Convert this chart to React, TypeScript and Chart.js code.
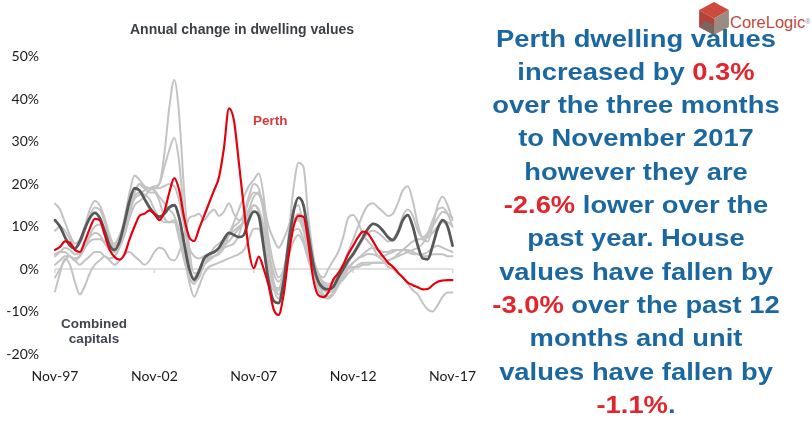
import React, { useEffect, useRef } from "react";
import { Chart, registerables } from "chart.js";

Chart.register(...registerables);

// Quarterly observations, Nov-97 .. Nov-17
const CATEGORIES = [
  "Nov-97",
  "Feb-98", "May-98", "Aug-98", "Nov-98",
  "Feb-99", "May-99", "Aug-99", "Nov-99",
  "Feb-00", "May-00", "Aug-00", "Nov-00",
  "Feb-01", "May-01", "Aug-01", "Nov-01",
  "Feb-02", "May-02", "Aug-02", "Nov-02",
  "Feb-03", "May-03", "Aug-03", "Nov-03",
  "Feb-04", "May-04", "Aug-04", "Nov-04",
  "Feb-05", "May-05", "Aug-05", "Nov-05",
  "Feb-06", "May-06", "Aug-06", "Nov-06",
  "Feb-07", "May-07", "Aug-07", "Nov-07",
  "Feb-08", "May-08", "Aug-08", "Nov-08",
  "Feb-09", "May-09", "Aug-09", "Nov-09",
  "Feb-10", "May-10", "Aug-10", "Nov-10",
  "Feb-11", "May-11", "Aug-11", "Nov-11",
  "Feb-12", "May-12", "Aug-12", "Nov-12",
  "Feb-13", "May-13", "Aug-13", "Nov-13",
  "Feb-14", "May-14", "Aug-14", "Nov-14",
  "Feb-15", "May-15", "Aug-15", "Nov-15",
  "Feb-16", "May-16", "Aug-16", "Nov-16",
  "Feb-17", "May-17", "Aug-17", "Nov-17",
];

const X_TICK_LABELS = ["Nov-97", "Nov-02", "Nov-07", "Nov-12", "Nov-17"];
const Y_MIN = -20;
const Y_MAX = 50;
const Y_STEP = 10;

const PERTH = [
  4.5, 5.2, 6.5, 6.2, 4.5, 4.0, 6.5, 9.5, 11.8, 11.5,
  8, 4.5, 2.8, 2.2, 3.5, 7, 10, 12.5, 13, 13.8,
  13, 11.5, 13.5, 18, 21.4, 18.5, 12, 7.5, 6.6, 9.5,
  12.5, 15.5, 18.5, 21.6, 28.5, 37.8, 35, 25, 14.5, 4.5,
  0.2, 2.9, 0, -4, -9.5, -10.8, -6, 3, 10, 12.5,
  12.3, 6, -2.5, -6.2, -6.6, -5.5, -2.5, -1, 1, 3.5,
  5.5, 7.5, 8.8, 8.3, 6.5, 4.5, 3, 1.5, 0.5, -0.8,
  -2, -3.2, -3.8, -4.3, -4.8, -4.7, -3.8, -3, -2.7, -2.6,
  -2.6,
];

const COMBINED = [
  11.5, 10, 7.5, 5.5, 4.8, 6.5, 9.5, 12, 13.2, 12,
  9, 5.5, 4.5, 6.5, 11, 16, 19, 18.5, 16.5, 14.5,
  13, 12.3, 13, 14.5, 15, 12, 6, 0, -2.5, -0.5,
  2.5, 3.5, 4, 5, 7, 8.5, 8, 7.5, 8, 11.5,
  13.5, 12.5, 5, -3, -7.5, -8, -3, 6, 13.5, 16.8,
  15, 8, 1, -3, -4.5, -4.8, -4.2, -2, 0, 2,
  3.5, 5.5, 7.5, 9.5, 10.6, 10.2, 9, 7.5, 6.8, 8.5,
  11.5, 12.7, 10, 5.5, 2.5, 2.3, 5.5, 9.5, 11.5, 10,
  5.5,
];

const SYDNEY = [
  15.4, 14, 11, 8, 6, 7, 10, 14, 16, 15,
  12, 8, 5.5, 7, 12, 18, 22, 21, 19.5, 19,
  18.5, 17, 15.5, 14, 12.5, 9, 3, -3, -6.5, -4,
  -1, 0.5, 1, 1.5, 2, 2.5, 3, 3.5, 4.5, 7,
  9.5, 9.5, 5, -1.5, -5, -5, -1.5, 5, 11, 13,
  11, 6, 2, -1, -3.5, -4, -3, -1, 1, 4,
  7, 10, 13, 15, 15.5, 14.5, 13.5, 12.5, 13, 15.5,
  18.5, 19.5, 16, 10.5, 7, 6.5, 10, 15, 17, 15,
  11.5,
];

const MELBOURNE = [
  9, 10, 9, 7, 5, 6, 9, 12.5, 14.5, 14,
  11, 7, 5, 6, 9.5, 14, 18, 20, 19, 18,
  18, 16, 12, 11, 11, 7, 2, -2, -3.5, -1,
  1, 2, 3, 4, 6, 8, 10, 11, 13, 17,
  20, 19, 13, 4, -3, -6, -2, 8, 19, 25,
  24, 12, 3, -3, -6, -6.5, -5.5, -3, -1, 1.5,
  3.5, 5, 7, 8.5, 9, 8.5, 7.5, 6.5, 7, 9,
  12.5, 14, 12.5, 9, 7.5, 8.5, 11.5, 14, 14.5, 13,
  10,
];

const BRISBANE = [
  3, 4, 5, 4.5, 3.5, 3.5, 5.5, 7.5, 8.5, 8,
  6, 4.5, 4, 6, 9, 13, 18, 20, 19, 19,
  19.5, 20, 24, 28, 30.8, 25, 12, 2, -3, -2,
  1, 2.5, 3, 3.5, 5, 8, 11, 14, 17, 19.5,
  21, 22.5, 17, 5, -4, -7, -3, 4, 10.5, 11.5,
  9, 4, -1, -5, -6.5, -7, -6, -4, -2, 0,
  1.5, 2.5, 3.5, 4.5, 5, 4.5, 4, 4, 4.5, 4.5,
  4.5, 4.5, 4, 3.5, 3, 3, 3.5, 3.5, 3.5, 3,
  3,
];

const ADELAIDE = [
  3.5, 4, 4, 3, 2.5, 3, 5, 6.5, 7, 7,
  6.5, 6, 6, 8, 11, 14, 16.5, 17.5, 18.5, 19,
  19, 19, 19.5, 20, 19.5, 16, 10, 5, 3, 2.5,
  3, 3.5, 4, 4.5, 5, 5.5, 6, 8, 12, 16,
  18, 17.5, 14, 7, 1, -2, 0, 5, 9, 9.5,
  7, 3, 0, -2, -3, -3.5, -3, -2, -1, 0.5,
  1.5, 2.5, 3, 3.5, 3.5, 3, 3, 3.5, 4, 4.5,
  4.5, 4, 3.5, 3.5, 3.5, 4, 5, 5.5, 5, 4.5,
  4,
];

const HOBART = [
  -2, 0, 2, 3, 2, 1, 2, 3, 4, 4,
  3, 2.5, 3, 5, 8, 12, 15, 16, 17, 18.5,
  19, 20, 27, 38, 44.5, 36, 18, 5, -1, -1,
  1, 3, 5, 6, 7, 8, 9, 10, 11, 12.5,
  15, 14, 10, 4, -1, -3, -1, 3, 6.5, 8,
  6, 2, -1.5, -4, -5, -5.5, -5, -3.5, -2.5, -1,
  0, 1, 1.5, 1.5, 1.5, 1.5, 1.5, 2, 2.5, 3,
  3.5, 4, 4.5, 5, 6, 8, 10, 12, 13.5, 13,
  12,
];

const DARWIN = [
  -5.3, -1, 2.5, 1, -3, -6, -4, -1, 1, 2,
  3, 2, 1, 2, 3.5, 4, 3, 2, 1, 2,
  4, 5, 4.5, 2.5, 2, 4, 8, 12, 12.5, 13,
  11.5, 13, 14, 12.5, 13.5, 15.5, 13, 11.5, 12, 14,
  17, 18, 15, 10, 7, 5, 7, 10, 14, 15,
  10, 5, 2, -1, -2, 0, 2, 4, 7.5, 12,
  12.7, 11, 8, 6.5, 5, 3, 2, 0.5, 0, -1,
  -2, -3.5, -5, -6, -8, -9.5, -10, -8.5, -6.5, -5.5,
  -5.5,
];

const CANBERRA = [
  1, 2, 3, 3, 2, 3, 5, 8, 10, 10.5,
  9, 6, 5, 6, 9, 13, 17, 18, 17.5, 16.5,
  14, 12, 11, 11, 11.5, 9, 4, 0, -2, 0,
  2, 3, 4, 4.5, 5.5, 6.5, 8, 9.5, 11, 13.5,
  15, 13.5, 8, 1, -4, -4.5, -1, 5, 10, 12,
  10, 5, 1, -2.5, -4, -4.5, -4, -3, -1.5, 0,
  0.5, 0.5, 1, 1, 1.5, 1.5, 1.5, 2, 2.5, 3.5,
  4.5, 5.5, 6.5, 7, 7, 7.5, 8.5, 10, 11, 11,
  10,
];

const GREY_SERIES: [string, number[]][] = [
  ["Sydney", SYDNEY],
  ["Melbourne", MELBOURNE],
  ["Brisbane", BRISBANE],
  ["Adelaide", ADELAIDE],
  ["Hobart", HOBART],
  ["Darwin", DARWIN],
  ["Canberra", CANBERRA],
];

const TICK_FONT = { family: "Lato, 'Liberation Sans', sans-serif", size: 14 };

export default function App() {
  const canvasRef = useRef<HTMLCanvasElement | null>(null);

  useEffect(() => {
    const canvas = canvasRef.current;
    if (!canvas) return;

    const zeroLine = {
      id: "zeroLine",
      beforeDatasetsDraw(chart: any) {
        const { ctx, chartArea, scales } = chart;
        const y0 = scales.y.getPixelForValue(0);
        ctx.save();
        ctx.strokeStyle = "#d9d9d9";
        ctx.lineWidth = 1.5;
        ctx.beginPath();
        ctx.moveTo(chartArea.left, y0);
        ctx.lineTo(chartArea.right, y0);
        CATEGORIES.forEach((c, i) => {
          if (X_TICK_LABELS.includes(c)) {
            const x = scales.x.getPixelForValue(i);
            ctx.moveTo(x, y0);
            ctx.lineTo(x, y0 + 4);
          }
        });
        ctx.stroke();
        ctx.restore();
      },
    };

    const datasets: any[] = [
      {
        label: "Perth",
        data: PERTH,
        borderColor: "#e5000d",
        borderWidth: 2.2,
        order: 0,
      },
      {
        label: "Combined capitals",
        data: COMBINED,
        borderColor: "#585858",
        borderWidth: 2.8,
        order: 1,
      },
      ...GREY_SERIES.map(([name, values]) => ({
        label: name,
        data: values,
        borderColor: "#c3c3c3",
        borderWidth: 2,
        order: 2,
      })),
    ];

    const chart = new Chart(canvas, {
      type: "line",
      data: { labels: CATEGORIES, datasets },
      options: {
        animation: false,
        responsive: false,
        devicePixelRatio: 1,
        layout: { padding: { top: 56.5, right: 28, left: 0, bottom: 0 } },
        elements: {
          point: { radius: 0, hoverRadius: 0 },
          line: {
            cubicInterpolationMode: "monotone",
            borderCapStyle: "round",
            borderJoinStyle: "round",
            fill: false,
          },
        },
        plugins: {
          legend: { display: false },
          tooltip: { enabled: false },
          title: { display: false },
        },
        scales: {
          x: {
            type: "category",
            offset: false,
            grid: { display: false, drawTicks: false },
            border: { display: false },
            ticks: {
              autoSkip: false,
              maxRotation: 0,
              minRotation: 0,
              padding: 14,
              color: "#1a1a1a",
              font: TICK_FONT,
              callback: (_v: any, i: number) =>
                X_TICK_LABELS.includes(CATEGORIES[i]) ? CATEGORIES[i] : null,
            },
            afterFit: (s: any) => {
              s.height = 69;
            },
          },
          y: {
            min: Y_MIN,
            max: Y_MAX,
            grid: { display: false, drawTicks: false },
            border: { display: false },
            ticks: {
              stepSize: Y_STEP,
              padding: 16,
              color: "#1a1a1a",
              font: TICK_FONT,
              callback: (v: any) => `${v}%`,
            },
            afterFit: (s: any) => {
              s.width = 55;
            },
          },
        },
      },
      plugins: [zeroLine],
    });

    return () => chart.destroy();
  }, []);

  const blue = "#1b68a1";
  const red = "#e2252c";

  return (
    <div
      style={{
        position: "absolute",
        left: 0,
        top: 0,
        width: 812,
        height: 423,
        background: "#ffffff",
        overflow: "hidden",
      }}
    >
      <canvas
        ref={canvasRef}
        width={490}
        height={423}
        style={{ position: "absolute", left: 0, top: 0 }}
      />
      <div
        style={{
          position: "absolute",
          left: 0,
          width: 484,
          top: 21,
          textAlign: "center",
          font: "bold 14px 'Liberation Sans', Arial, sans-serif",
          lineHeight: "16px",
          color: "#3b3f48",
          whiteSpace: "nowrap",
        }}
      >
        Annual change in dwelling values
      </div>
      <div
        style={{
          position: "absolute",
          left: 253,
          top: 113,
          font: "bold 13.5px 'Liberation Sans', Arial, sans-serif",
          lineHeight: "16px",
          color: "#d63a3c",
          whiteSpace: "nowrap",
        }}
      >
        Perth
      </div>
      <div
        style={{
          position: "absolute",
          left: 44,
          width: 100,
          top: 316,
          textAlign: "center",
          font: "bold 13.5px 'Liberation Sans', Arial, sans-serif",
          lineHeight: "15px",
          color: "#404552",
        }}
      >
        Combined
        <br />
        capitals
      </div>

      {/* CoreLogic logo */}
      <svg
        width={30}
        height={33}
        viewBox="0 0 28 31"
        style={{ position: "absolute", left: 699, top: 2 }}
      >
        <polygon points="14,0 28,7.5 14,15.5 0,7.5" fill="#cc4b3d" />
        <polygon points="0,7.5 14,15.5 14,31 0,23.5" fill="#b4443a" />
        <polygon points="14,15.5 28,7.5 28,23.5 14,31" fill="#9c8a83" />
        <polygon points="0,23.5 14,31 14,22 6,17.5" fill="#76665f" />
      </svg>
      <div
        style={{
          position: "absolute",
          left: 730,
          top: 13,
          font: "16.5px 'Liberation Sans', Arial, sans-serif",
          lineHeight: "18px",
          color: "#bf4a3e",
          whiteSpace: "nowrap",
        }}
      >
        CoreLogic
        <span style={{ fontSize: 7, verticalAlign: "top", color: "#8c8c8c" }}>®</span>
      </div>

      {/* Commentary */}
      <div
        style={{
          position: "absolute",
          left: 480,
          width: 312,
          top: 21.6,
          textAlign: "center",
          font: "bold 24px 'Liberation Sans', Arial, sans-serif",
          lineHeight: "33.3px",
          color: blue,
          whiteSpace: "nowrap",
          transform: "scaleX(1.14)",
          transformOrigin: "50% 0",
        }}
      >
        Perth dwelling values
        <br />
        increased by <span style={{ color: red }}>0.3%</span>
        <br />
        over the three months
        <br />
        to November 2017
        <br />
        however they are
        <br />
        <span style={{ color: red }}>-2.6%</span> lower over the
        <br />
        past year. House
        <br />
        values have fallen by
        <br />
        <span style={{ color: red }}>-3.0%</span> over the past 12
        <br />
        months and unit
        <br />
        values have fallen by
        <br />
        <span style={{ color: red }}>-1.1%</span>.
      </div>
    </div>
  );
}
